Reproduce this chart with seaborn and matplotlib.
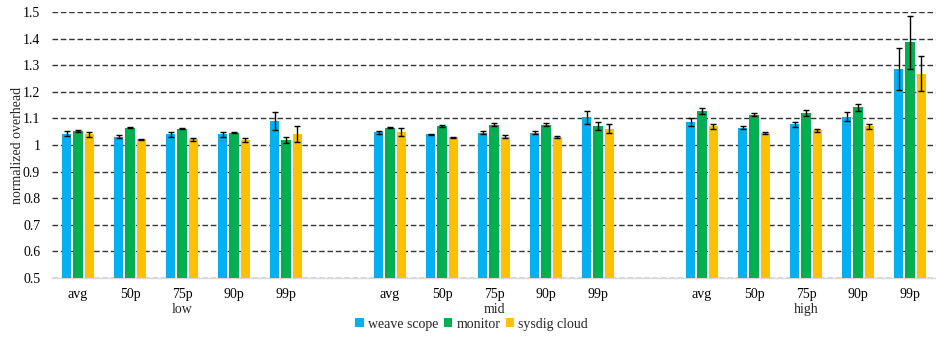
import numpy as np
import pandas as pd
import matplotlib
matplotlib.use("Agg")
import matplotlib.pyplot as plt
import matplotlib.transforms as mtransforms
import seaborn as sns

# ---- data -------------------------------------------------------------
loads = ["low", "mid", "high"]
stats = ["avg", "50p", "75p", "90p", "99p"]
tools = ["weave scope", "monitor", "sysdig cloud"]

weave_scope = {
    "low":  [1.043, 1.032, 1.040, 1.040, 1.090],
    "mid":  [1.048, 1.040, 1.047, 1.047, 1.105],
    "high": [1.088, 1.066, 1.078, 1.107, 1.286],
}
monitor = {
    "low":  [1.054, 1.065, 1.062, 1.047, 1.019],
    "mid":  [1.066, 1.073, 1.077, 1.077, 1.072],
    "high": [1.129, 1.114, 1.121, 1.142, 1.386],
}
sysdig_cloud = {
    "low":  [1.040, 1.021, 1.021, 1.019, 1.043],
    "mid":  [1.051, 1.029, 1.032, 1.029, 1.062],
    "high": [1.070, 1.045, 1.055, 1.070, 1.269],
}

weave_scope_err = {
    "low":  [0.009, 0.005, 0.008, 0.010, 0.035],
    "mid":  [0.006, 0.003, 0.005, 0.007, 0.025],
    "high": [0.015, 0.007, 0.009, 0.017, 0.078],
}
monitor_err = {
    "low":  [0.003, 0.002, 0.003, 0.002, 0.012],
    "mid":  [0.003, 0.004, 0.006, 0.006, 0.015],
    "high": [0.012, 0.005, 0.010, 0.014, 0.099],
}
sysdig_cloud_err = {
    "low":  [0.008, 0.003, 0.006, 0.006, 0.030],
    "mid":  [0.015, 0.003, 0.005, 0.004, 0.018],
    "high": [0.009, 0.003, 0.005, 0.009, 0.065],
}

colors = ["#00B0F0", "#00B050", "#FFC000"]

# ---- long-form table ---------------------------------------------------
values = dict(zip(tools, [weave_scope, monitor, sysdig_cloud]))
errors = dict(zip(tools, [weave_scope_err, monitor_err, sysdig_cloud_err]))

rows = []
for load in loads:
    for i, st in enumerate(stats):
        for tool in tools:
            rows.append({"slot": f"{load} {st}", "tool": tool,
                         "value": values[tool][load][i],
                         "err": errors[tool][load][i]})
df = pd.DataFrame(rows)

# category order with an empty slot between load levels
order = []
for k, load in enumerate(loads):
    order += [f"{load} {st}" for st in stats]
    if k < len(loads) - 1:
        order.append(f"gap{k}")

# ---- figure ------------------------------------------------------------
sns.set_theme(style="white")
plt.rcParams["font.family"] = ["Liberation Serif", "DejaVu Serif"]
FS = 10

fig = plt.figure(figsize=(9.36, 3.37), dpi=100)
ax = fig.add_axes([0.0556, 0.175, 0.9444, 0.789])

sns.barplot(data=df, x="slot", y="value", hue="tool", order=order,
            hue_order=tools, palette=colors, width=0.66, gap=0.17,
            errorbar=None, ax=ax, legend=True, saturation=1,
            edgecolor="none", zorder=3)

# error bars placed on the drawn bars
err_lookup = {(r.slot, r.tool): r.err for r in df.itertuples()}
for tool, container in zip(tools, ax.containers):
    for patch in container.patches:
        xc = patch.get_x() + patch.get_width() / 2
        slot = order[int(round(xc))]
        h = patch.get_y() + patch.get_height()
        ax.errorbar(xc, h, yerr=err_lookup[(slot, tool)], color="black",
                    elinewidth=1.0, capsize=2.0, capthick=1.0, zorder=4)

ax.set_ylim(0.5, 1.5)
ax.set_xlim(-0.5, len(order) - 0.5)
ax.set_yticks(np.arange(0.5, 1.51, 0.1))
ax.set_yticklabels([f"{v:g}" for v in np.round(np.arange(0.5, 1.51, 0.1), 1)])
ax.yaxis.grid(True, linestyle=(0, (4.0, 2.0)), color="#333333", linewidth=1.0,
              zorder=0)
ax.set_axisbelow(True)

# x tick labels: statistic names only
ticks = [i for i, s in enumerate(order) if not s.startswith("gap")]
ax.set_xticks(ticks)
ax.set_xticklabels([order[i].split(" ")[1] for i in ticks])
ax.tick_params(axis="both", length=0, labelsize=FS, colors="black")
ax.tick_params(axis="y", pad=8.5)
ax.tick_params(axis="x", pad=7.5)

# load-level labels under the middle statistic
trans = mtransforms.blended_transform_factory(ax.transData, ax.transAxes)
for load in loads:
    ax.text(order.index(f"{load} 75p"), -0.093, load, transform=trans,
            ha="center", va="top", fontsize=FS)

for side in ["top", "right", "left"]:
    ax.spines[side].set_visible(False)
ax.spines["bottom"].set_color("#D9D9D9")
ax.spines["bottom"].set_linewidth(1.0)

ax.set_xlabel("")
ax.set_ylabel("normalized overhead", fontsize=FS)
ax.yaxis.set_label_coords(-0.032, 0.5)

handles, labels = ax.get_legend_handles_labels()
ax.get_legend().remove()
fig.legend(handles, labels, loc="center", bbox_to_anchor=(0.504, 0.038),
           ncol=3, frameon=False, fontsize=FS, handlelength=0.6,
           handleheight=0.6, handletextpad=0.3, columnspacing=0.4,
           borderaxespad=0)

fig.savefig("out.png", dpi=100)
